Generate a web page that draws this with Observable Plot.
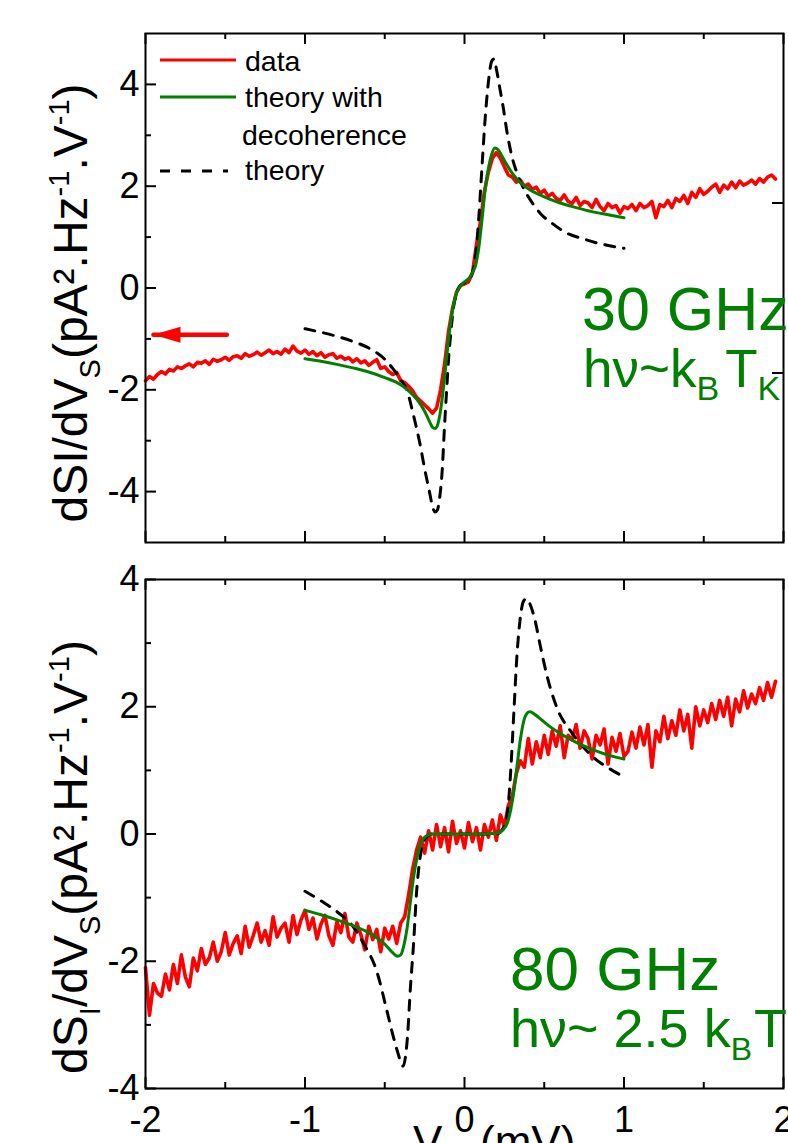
<!DOCTYPE html>
<html>
<head>
<meta charset="utf-8">
<script src="https://cdn.jsdelivr.net/npm/d3@7"></script>
<script src="https://cdn.jsdelivr.net/npm/@observablehq/plot@0.6"></script>
<style>
  html, body { margin: 0; padding: 0; background: #fff; }
  #root { position: relative; width: 788px; height: 1143px; overflow: hidden; background: #fff; }
  #root svg { position: absolute; left: 0; display: block; overflow: visible; }
</style>
</head>
<body>
<div id="root"></div>
<script>
// ---------- data ----------
const xMajor = [-2, -1, 0, 1, 2];
const xMinor = [-1.5, -0.5, 0.5, 1.5];
const topYMajor = [-4, -2, 0, 2, 4];
const topYMinor = [-3, -1, 1, 3];
const topRightTicks = [-1.67, 1.67];
const botYMajor = [-4, -2, 0, 2, 4];
const botYMinor = [-3, -1, 1, 3];

// measured data sampled from V = -2 mV every 0.025 mV
const dataStart = -2, dataStep = 0.025;
const topRed = [
  -1.82,-1.74,-1.79,-1.70,-1.64,-1.69,-1.60,-1.63,-1.55,-1.58,-1.53,-1.49,-1.55,-1.46,-1.48,-1.43,-1.50,-1.40,-1.44,-1.41,
  -1.36,-1.42,-1.35,-1.33,-1.38,-1.29,-1.34,-1.31,-1.26,-1.32,-1.27,-1.22,-1.29,-1.25,-1.30,-1.20,-1.27,-1.14,-1.24,-1.28,-1.22,
  -1.30,-1.25,-1.33,-1.27,-1.36,-1.31,-1.29,-1.38,-1.34,-1.40,-1.37,-1.45,-1.39,-1.47,-1.43,-1.52,-1.46,-1.41,-1.58,-1.55,
  -1.64,-1.70,-1.66,-1.82,-1.86,-1.93,-2.02,-2.15,-2.22,-2.30,-2.37,-2.46,-2.36,-2.00,-1.50,-0.85,-0.40,-0.08,0.05,0.08,
  0.12,0.30,0.85,1.30,1.90,2.28,2.55,2.66,2.55,2.38,2.22,2.18,2.08,2.12,2.00,2.04,1.94,1.98,1.86,1.92,
  1.80,1.86,1.76,1.72,1.83,1.70,1.66,1.78,1.62,1.70,1.67,1.58,1.74,1.60,1.52,1.66,1.58,1.62,1.47,1.60,
  1.56,1.64,1.52,1.66,1.58,1.62,1.70,1.38,1.64,1.60,1.72,1.58,1.76,1.70,1.82,1.66,1.88,1.78,1.95,1.84,
  1.90,1.98,2.04,1.88,2.02,1.95,2.08,1.97,2.10,2.02,2.06,2.12,2.04,2.15,2.08,2.18,2.22,2.14
];
const botRed = [
  -2.10,-2.85,-2.35,-2.50,-2.55,-2.20,-2.45,-2.05,-2.35,-1.90,-2.25,-2.40,-1.95,-2.15,-1.80,-2.05,-1.95,-1.70,-2.00,-1.85,
  -1.55,-1.90,-1.72,-1.60,-1.88,-1.45,-1.78,-1.60,-1.40,-1.70,-1.52,-1.75,-1.30,-1.62,-1.48,-1.40,-1.70,-1.28,-1.58,-1.35,-1.20,
  -1.50,-1.32,-1.65,-1.42,-1.28,-1.60,-1.75,-1.38,-1.55,-1.25,-1.62,-1.70,-1.40,-1.58,-1.82,-1.45,-1.66,-1.50,-1.85,-1.48,
  -1.65,-1.45,-1.72,-1.40,-1.30,-0.95,-0.55,-0.25,-0.05,-0.30,0.05,-0.25,0.15,-0.20,0.10,-0.28,0.20,-0.15,0.05,-0.22,
  0.18,-0.12,0.10,-0.25,0.15,-0.05,0.22,-0.10,0.30,0.12,0.45,0.60,0.95,1.15,1.05,1.50,1.10,1.45,1.20,1.55,
  1.25,1.62,1.38,1.70,1.20,1.55,1.48,1.72,1.35,1.62,1.50,1.18,1.55,1.40,1.65,1.10,1.52,1.30,1.58,1.22,
  1.30,1.60,1.35,1.68,1.40,1.72,1.05,1.62,1.45,1.85,1.50,1.78,1.55,1.95,1.62,1.88,1.35,2.00,1.70,1.95,
  1.75,2.05,1.80,2.10,1.85,2.15,1.70,2.12,1.92,2.25,1.98,2.20,2.05,2.30,2.10,2.38,2.15,2.40
];

// theory with decoherence (green) and theory (dashed)
const topGreenX = [-1.0,-0.9,-0.8,-0.7,-0.6,-0.5,-0.4,-0.35,-0.3,-0.25,-0.22,-0.2,-0.185,-0.17,-0.15,-0.13,-0.11,-0.09,-0.07,-0.05,-0.03,0.0,0.03,0.05,0.07,0.09,0.11,0.13,0.15,0.17,0.19,0.21,0.23,0.26,0.3,0.35,0.4,0.5,0.6,0.7,0.8,0.9,1.0];
const topGreenY = [-1.39,-1.44,-1.5,-1.57,-1.65,-1.76,-1.9,-2.02,-2.18,-2.42,-2.62,-2.74,-2.76,-2.7,-2.4,-1.9,-1.3,-0.75,-0.35,-0.1,0.02,0.12,0.2,0.3,0.45,0.8,1.35,1.95,2.35,2.62,2.75,2.72,2.62,2.45,2.25,2.07,1.95,1.79,1.67,1.58,1.5,1.44,1.38];
const topDashX = [-1.0,-0.9,-0.8,-0.7,-0.6,-0.5,-0.45,-0.4,-0.36,-0.32,-0.28,-0.25,-0.22,-0.2,-0.185,-0.17,-0.155,-0.14,-0.125,-0.11,-0.1,-0.085,-0.07,-0.05,-0.025,0.0,0.03,0.05,0.07,0.09,0.11,0.13,0.15,0.17,0.185,0.2,0.22,0.24,0.27,0.3,0.33,0.38,0.43,0.48,0.55,0.64,0.75,0.85,1.0];
const topDashY = [-0.8,-0.87,-0.95,-1.05,-1.18,-1.4,-1.58,-1.8,-2.02,-2.5,-3.05,-3.55,-4.0,-4.3,-4.4,-4.36,-4.1,-3.6,-2.7,-1.9,-1.4,-0.85,-0.4,-0.1,0.05,0.1,0.18,0.3,0.65,1.4,2.4,3.35,4.05,4.45,4.5,4.3,3.95,3.6,3.0,2.55,2.25,1.9,1.65,1.45,1.27,1.08,0.96,0.87,0.78];
const botGreenX = [-1.0,-0.9,-0.8,-0.7,-0.6,-0.55,-0.5,-0.46,-0.42,-0.4,-0.38,-0.36,-0.34,-0.32,-0.3,-0.28,-0.26,-0.23,-0.2,-0.1,0.0,0.1,0.2,0.24,0.27,0.29,0.31,0.33,0.35,0.37,0.39,0.41,0.44,0.48,0.54,0.6,0.7,0.8,0.9,1.0];
const botGreenY = [-1.2,-1.27,-1.35,-1.44,-1.55,-1.63,-1.73,-1.84,-1.92,-1.9,-1.75,-1.48,-1.08,-0.69,-0.4,-0.2,-0.08,-0.02,0.0,0.0,0.0,0.0,0.01,0.06,0.18,0.38,0.68,1.08,1.48,1.76,1.89,1.92,1.88,1.8,1.68,1.58,1.44,1.33,1.24,1.18];
const botDashX = [-1.0,-0.9,-0.8,-0.7,-0.63,-0.55,-0.49,-0.45,-0.42,-0.4,-0.385,-0.37,-0.355,-0.34,-0.32,-0.3,-0.28,-0.26,-0.23,-0.2,0.0,0.2,0.24,0.27,0.29,0.31,0.33,0.35,0.37,0.39,0.41,0.44,0.48,0.52,0.58,0.67,0.75,0.81,0.9,1.0];
const botDashY = [-0.9,-1.05,-1.22,-1.45,-1.73,-2.16,-2.74,-3.15,-3.42,-3.58,-3.65,-3.5,-3.1,-2.45,-1.75,-0.9,-0.4,-0.14,-0.03,0.0,0.0,0.0,0.08,0.35,1.0,1.94,2.85,3.4,3.66,3.7,3.62,3.38,2.9,2.46,1.98,1.6,1.35,1.2,1.04,0.9];

// annotation arrow (points to the left axis)
const arrowX = [-1.49, -1.95];
const arrowY = -0.92;

const legendLabels = ["data", "theory with", "decoherence", "theory"];
const RED = "#ff0000", GREEN = "#008000";
const FONT = '"Liberation Sans", Arial, Helvetica, sans-serif';

// ---------- build ----------
const rowsFromSeries = arr => arr.map((v, i) => ({x: +(dataStart + i * dataStep).toFixed(3), y: v}));
const zip = (xs, ys) => xs.map((x, i) => ({x, y: ys[i]}));

const W = 788, mL = 145, mR = 5;

function panel(o) {
  const kx = (W - mL - mR) / 4;
  const ky = (o.height - o.mT - o.mB) / (o.yDomain[1] - o.yDomain[0]);
  const [y0, y1] = o.yDomain;
  const L = 11, S = 6;
  const tickStyle = {stroke: "black", strokeWidth: 2};
  const marks = [
    Plot.line(o.red, {x: "x", y: "y", stroke: RED, strokeWidth: 3.6, strokeLinejoin: "round"}),
    Plot.line(o.dash, {x: "x", y: "y", stroke: "black", strokeWidth: 3, strokeDasharray: "10,9", curve: "monotone-x"}),
    Plot.line(o.green, {x: "x", y: "y", stroke: GREEN, strokeWidth: 3, curve: "monotone-x"}),
    Plot.ruleY(o.yMajor, {y: d => d, x1: -2, x2: -2 + L / kx, ...tickStyle}),
    Plot.ruleY(o.yMinor, {y: d => d, x1: -2, x2: -2 + S / kx, ...tickStyle}),
    Plot.ruleX(xMajor, {x: d => d, y1: y1, y2: y1 - L / ky, ...tickStyle}),
    Plot.ruleX(xMinor, {x: d => d, y1: y1, y2: y1 - S / ky, ...tickStyle}),
    Plot.ruleX(xMajor, {x: d => d, y1: y0, y2: y0 + L / ky, ...tickStyle}),
    Plot.ruleX(xMinor, {x: d => d, y1: y0, y2: y0 + S / ky, ...tickStyle}),
    Plot.frame({stroke: "black", strokeWidth: 2}),
    Plot.axisY(o.yMajor, {tickSize: 0, tickPadding: 6, fontSize: 36, tickFormat: d => String(d), label: null})
  ];
  if (o.rightTicks) marks.push(Plot.ruleY(o.rightTicks, {y: d => d, x1: 2 - L / kx, x2: 2, ...tickStyle}));
  if (o.showX) marks.push(Plot.axisX(xMajor, {tickSize: 0, tickPadding: 18, fontSize: 36, tickFormat: d => String(d), label: null}));
  if (o.arrow) {
    const head = {draw(ctx) { ctx.moveTo(0, 0); ctx.lineTo(27, -8); ctx.lineTo(27, 8); ctx.closePath(); }};
    marks.push(Plot.line(o.arrow.x.map(x => ({x, y: o.arrow.y})), {x: "x", y: "y", stroke: RED, strokeWidth: 4.5}));
    marks.push(Plot.dot([{x: o.arrow.x[1], y: o.arrow.y}], {x: "x", y: "y", symbol: head, fill: RED, stroke: "none", r: 5}));
  }
  const svg = Plot.plot({
    width: W, height: o.height,
    marginLeft: mL, marginRight: mR, marginTop: o.mT, marginBottom: o.mB,
    x: {domain: [-2, 2], axis: o.showX ? undefined : null},
    y: {domain: o.yDomain},
    style: {fontFamily: FONT, background: "transparent", color: "black", overflow: "visible"},
    marks
  });
  svg.style.top = o.top + "px";
  return svg;
}

// text with sub/superscripts; each part: {t, sub?, sup?, x?, dx?}
function richText(sel, parts, subSize, shift) {
  let offset = 0;
  parts.forEach(p => {
    const t = sel.append("tspan").text(p.t);
    let target = 0;
    if (p.sub) target = shift;
    else if (p.sup) target = -shift * 1.35;
    if (p.sub || p.sup) t.attr("font-size", subSize);
    t.attr("dy", target - offset);
    offset = target;
    if (p.x != null) t.attr("x", p.x);
    if (p.dx != null) t.attr("dx", p.dx);
  });
}

const root = document.getElementById("root");

const topSvg = panel({
  top: 0, height: 560, mT: 33, mB: 18, yDomain: [-5, 5],
  yMajor: topYMajor, yMinor: topYMinor, rightTicks: topRightTicks,
  red: rowsFromSeries(topRed), green: zip(topGreenX, topGreenY), dash: zip(topDashX, topDashY),
  showX: false, arrow: {x: arrowX, y: arrowY}
});
const botSvg = panel({
  top: 560, height: 583, mT: 19, mB: 55, yDomain: [-4, 4],
  yMajor: botYMajor, yMinor: botYMinor,
  red: rowsFromSeries(botRed), green: zip(botGreenX, botGreenY), dash: zip(botDashX, botDashY),
  showX: true
});
root.appendChild(botSvg);
root.appendChild(topSvg);

// y-axis titles
function yTitle(svg, cy, parts) {
  const t = d3.select(svg).append("text")
    .attr("transform", `translate(87,${cy}) rotate(-90)`)
    .attr("text-anchor", "middle")
    .attr("font-family", FONT).attr("font-size", 48).attr("fill", "black");
  richText(t, parts, 29, 13);
}
yTitle(topSvg, 303, [{t: "dSI/dV"}, {t: "S", sub: true}, {t: "(pA².Hz"}, {t: "-1", sup: true}, {t: ".V"}, {t: "-1", sup: true}, {t: ")"}]);
yTitle(botSvg, 297, [{t: "dS"}, {t: "I", sub: true}, {t: "/dV"}, {t: "S", sub: true}, {t: "(pA².Hz"}, {t: "-1", sup: true}, {t: ".V"}, {t: "-1", sup: true}, {t: ")"}]);

// overlay: legend, annotations, x title
const ov = d3.select(root).append("svg")
  .attr("width", 788).attr("height", 1143)
  .style("top", "0px").style("pointer-events", "none")
  .attr("font-family", FONT);

const leg = [
  {label: legendLabels[0], color: RED, dash: null, ly: 60, ty: 71},
  {label: legendLabels[1], color: GREEN, dash: null, ly: 97, ty: 107},
  {label: legendLabels[2], color: null, dash: null, ly: null, ty: 145, tx: 242},
  {label: legendLabels[3], color: "black", dash: "10,11", ly: 171, ty: 180}
];
leg.forEach(d => {
  if (d.color) ov.append("line").attr("x1", 160).attr("x2", d.dash ? 228 : 236).attr("y1", d.ly).attr("y2", d.ly)
    .attr("stroke", d.color).attr("stroke-width", 3).attr("stroke-dasharray", d.dash);
  ov.append("text").attr("x", d.tx || 245).attr("y", d.ty).attr("font-size", 28.5).attr("fill", "black").text(d.label);
});

ov.append("text").attr("x", 582).attr("y", 330).attr("font-size", 61).attr("fill", GREEN).text("30 GHz");
richText(ov.append("text").attr("x", 583).attr("y", 387).attr("font-size", 53).attr("fill", GREEN),
  [{t: "hν~k"}, {t: "B", sub: true}, {t: "T", dx: 6}, {t: "K", sub: true}], 34, 13);
ov.append("text").attr("x", 510).attr("y", 990).attr("font-size", 62).attr("fill", GREEN).text("80 GHz");
richText(ov.append("text").attr("x", 510).attr("y", 1047).attr("font-size", 54).attr("fill", GREEN),
  [{t: "hν~ 2.5 k"}, {t: "B", sub: true}, {t: "T", dx: 2}, {t: "K", sub: true}], 32, 13);

// x-axis title (mostly below the visible page)
richText(ov.append("text").attr("x", 413).attr("y", 1157).attr("font-size", 44).attr("fill", "black"),
  [{t: "V"}, {t: "S", sub: true}, {t: "(mV)", x: 480}], 27, 14);
</script>
</body>
</html>
